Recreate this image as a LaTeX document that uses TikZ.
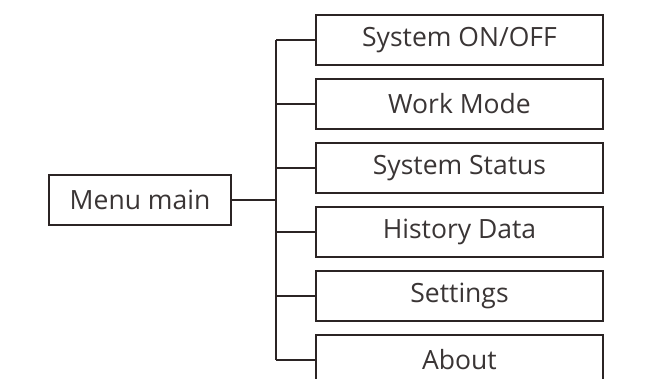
\documentclass[tikz,border=0pt]{standalone}
\usepackage{fontspec}
\setmainfont{Open Sans}
\usepackage{tikz}
\usetikzlibrary{positioning}
\definecolor{ink}{HTML}{2B2424}
\definecolor{txt}{HTML}{3A3535}
\tikzset{
  mainbox/.style={rectangle, draw=ink, line width=1.8pt, outer sep=0pt,
                  minimum width=182pt, minimum height=50pt, text=txt,
                  font=\fontsize{26.5}{30}\selectfont},
  itembox/.style={rectangle, draw=ink, line width=2.2pt, outer sep=0pt,
                  minimum width=287pt, minimum height=50pt, text=txt,
                  font=\fontsize{26.5}{30}\selectfont},
  link/.style={draw=ink, line width=1.3pt}
}
\begin{document}
\begin{tikzpicture}[x=1pt, y=-1pt, node distance=14pt]
\useasboundingbox (0,0) rectangle (655,378);
\clip (0,0) rectangle (655,378);
% menu items
\node[itembox] (m1) at (459.5,40) {System ON/OFF};
\node[itembox, below=of m1] (m2) {Work Mode};
\node[itembox, below=of m2] (m3) {System Status};
\node[itembox, below=of m3] (m4) {History Data};
\node[itembox, below=of m4] (m5) {Settings};
\node[itembox, below=of m5] (m6) {About};
% root
\node[mainbox] (menu) at (140,200) {Menu main};
% tree lines
\coordinate (bus) at (276,0);
\draw[link] (menu.east) -- (menu.east -| bus);
\draw[link] (m1.west -| bus) -- (m6.west -| bus);
\foreach \i in {1,...,6}
  \draw[link] (m\i.west -| bus) -- (m\i.west);
\end{tikzpicture}
\end{document}
